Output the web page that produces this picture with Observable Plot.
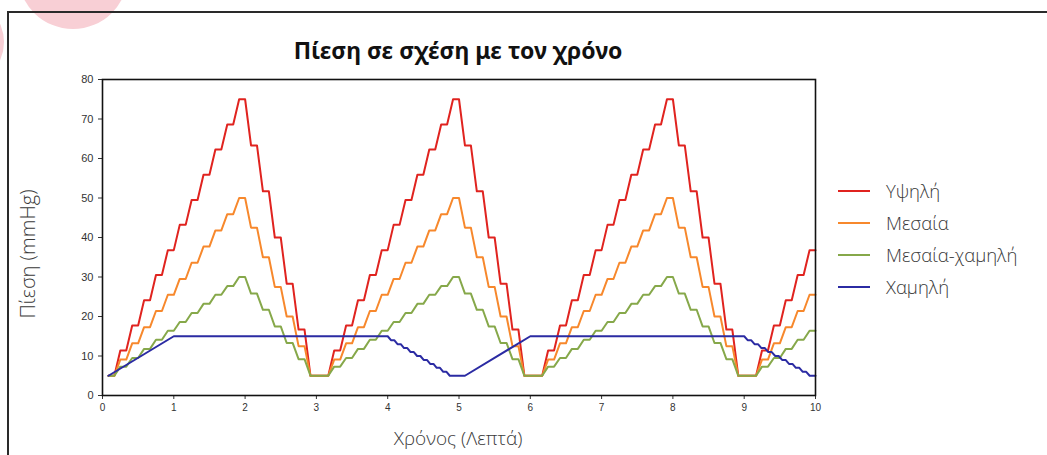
<!DOCTYPE html>
<html>
<head>
<meta charset="utf-8">
<script src="https://cdn.jsdelivr.net/npm/d3@7"></script>
<script src="https://cdn.jsdelivr.net/npm/@observablehq/plot@0.6"></script>
<style>
  html, body { margin: 0; padding: 0; background: #fff; }
  #root { position: relative; width: 1047px; height: 455px; overflow: hidden; background: #fff; }
  .blob { position: absolute; border-radius: 50%; background: #f8cfd5; }
  #frame { position: absolute; left: 7px; top: 11px; width: 1100px; height: 500px;
           border-top: 2px solid #2a2a2a; border-left: 2px solid #2a2a2a; }
  #title { position: absolute; top: 34px; left: 458px; transform: translateX(-50%);
           font-family: "Noto Sans", "Open Sans", sans-serif; font-weight: 700; font-size: 23px;
           color: #111; white-space: nowrap; line-height: 32px; }
  .axlabel { position: absolute; font-family: "Open Sans", "Lato", sans-serif; font-weight: 300;
             color: #3a3a3a; white-space: nowrap; line-height: 26px; }
  #xlabel { top: 425px; left: 458px; transform: translateX(-50%); font-size: 19px; }
  #ylabel { top: 254px; left: 28px; transform: translate(-50%, -50%) rotate(-90deg); font-size: 20px; }
  #legend { position: absolute; left: 838px; top: 0; }
  .li { position: absolute; left: 0; white-space: nowrap; font-family: "Open Sans", "Lato", sans-serif;
        font-weight: 300; font-size: 18.5px; color: #3a3a3a; line-height: 24px; }
  .li span.sw { position: absolute; left: 0; top: 11px; width: 32px; height: 2px; }
  .li span.tx { position: absolute; left: 48px; top: 0; }
  svg { position: absolute; left: 0; top: 0; }
</style>
</head>
<body>
<div id="root">
  <div class="blob" style="left:18px; top:-81px; width:110px; height:110px;"></div>
  <div class="blob" style="left:-84px; top:-2px; width:88px; height:88px;"></div>
  <div id="frame"></div>
  <div id="title">Πίεση σε σχέση με τον χρόνο</div>
  <div id="xlabel" class="axlabel">Χρόνος (Λεπτά)</div>
  <div id="ylabel" class="axlabel">Πίεση (mmHg)</div>
  <div id="legend"></div>
</div>
<script>
// ---- Data ----
const seriesNames = ["Υψηλή", "Μεσαία", "Μεσαία-χαμηλή", "Χαμηλή"];
const seriesColors = ["#e0231f", "#f7882c", "#86a84a", "#2b2ba3"];

const xTicks = [0, 1, 2, 3, 4, 5, 6, 7, 8, 9, 10];
const yTicks = [0, 10, 20, 30, 40, 50, 60, 70, 80];

// end (in seconds) of each 10-second step; each level is held for the last 5 s of its step
const stepSeconds = [10,20,30,40,50,60,70,80,90,100,110,120,130,140,150,160,170,180,
  190,200,210,220,230,240,250,260,270,280,290,300,310,320,330,340,350,360,
  370,380,390,400,410,420,430,440,450,460,470,480,490,500,510,520,530,540,
  550,560,570,580,590,600];

const highLevels = [5,11.4,17.7,24.1,30.5,36.8,43.2,49.5,55.9,62.3,68.6,75,63.3,51.7,40,28.3,16.7,5,
  5,11.4,17.7,24.1,30.5,36.8,43.2,49.5,55.9,62.3,68.6,75,63.3,51.7,40,28.3,16.7,5,
  5,11.4,17.7,24.1,30.5,36.8,43.2,49.5,55.9,62.3,68.6,75,63.3,51.7,40,28.3,16.7,5,
  5,11.4,17.7,24.1,30.5,36.8];

const mediumLevels = [5,9.1,13.2,17.3,21.4,25.5,29.5,33.6,37.7,41.8,45.9,50,42.5,35,27.5,20,12.5,5,
  5,9.1,13.2,17.3,21.4,25.5,29.5,33.6,37.7,41.8,45.9,50,42.5,35,27.5,20,12.5,5,
  5,9.1,13.2,17.3,21.4,25.5,29.5,33.6,37.7,41.8,45.9,50,42.5,35,27.5,20,12.5,5,
  5,9.1,13.2,17.3,21.4,25.5];

const mediumLowLevels = [5,7.3,9.5,11.8,14.1,16.4,18.6,20.9,23.2,25.5,27.7,30,25.8,21.7,17.5,13.3,9.2,5,
  5,7.3,9.5,11.8,14.1,16.4,18.6,20.9,23.2,25.5,27.7,30,25.8,21.7,17.5,13.3,9.2,5,
  5,7.3,9.5,11.8,14.1,16.4,18.6,20.9,23.2,25.5,27.7,30,25.8,21.7,17.5,13.3,9.2,5,
  5,7.3,9.5,11.8,14.1,16.4];

// low series: explicit points (seconds, mmHg)
const lowSeconds = [5,60,240,
  242.75,245.5,248.25,251,253.75,256.5,259.25,262,264.75,267.5,270.25,273,275.75,278.5,281.25,284,286.75,289.5,292.25,
  305,360,540,
  542.9,545.8,548.7,551.6,554.5,557.4,560.3,563.2,566.1,569,571.9,574.8,577.7,580.6,583.5,586.4,589.3,592.2,595.1,600];
const lowValues = [5,15,15,
  14,14,13,13,12,12,11,11,10,10,9,9,8,8,7,7,6,6,5,
  5,15,15,
  14,14,13,13,12,12,11,11,10,10,9,9,8,8,7,7,6,6,5,5];

// ---- Build tables ----
function stairs(name, levels) {
  const out = [];
  levels.forEach((v, k) => {
    out.push({series: name, t: (stepSeconds[k] - 5) / 60, v});
    out.push({series: name, t: stepSeconds[k] / 60, v});
  });
  return out;
}
const high = stairs(seriesNames[0], highLevels);
const medium = stairs(seriesNames[1], mediumLevels);
const mediumLow = stairs(seriesNames[2], mediumLowLevels);
const low = lowSeconds.map((s, i) => ({series: seriesNames[3], t: s / 60, v: lowValues[i]}));

const lw = 2;
const chart = Plot.plot({
  width: 1047,
  height: 455,
  marginLeft: 102,
  marginRight: 232,
  marginTop: 79,
  marginBottom: 60,
  style: {background: "transparent", fontFamily: "'Liberation Sans', Arial, sans-serif", fontSize: "10px", color: "#333"},
  x: {domain: [0, 10], label: null},
  y: {domain: [0, 80], label: null},
  marks: [
    Plot.axisX({ticks: xTicks, tickSize: 4, tickPadding: 4, label: null, tickFormat: d => String(d)}),
    Plot.axisY({ticks: yTicks, tickSize: 4, tickPadding: 5, label: null, tickFormat: d => String(d), fontSize: 11}),
    Plot.line(high, {x: "t", y: "v", stroke: seriesColors[0], strokeWidth: lw}),
    Plot.line(medium, {x: "t", y: "v", stroke: seriesColors[1], strokeWidth: lw}),
    Plot.line(mediumLow, {x: "t", y: "v", stroke: seriesColors[2], strokeWidth: lw}),
    Plot.line(low, {x: "t", y: "v", stroke: seriesColors[3], strokeWidth: lw}),
    Plot.frame({stroke: "#111", strokeWidth: 1.6})
  ]
});
const root = document.getElementById("root");
root.insertBefore(chart, root.firstChild);

// ---- Legend ----
const legend = document.getElementById("legend");
const rowTops = [179, 211, 243, 275];
seriesNames.forEach((name, i) => {
  const d = document.createElement("div");
  d.className = "li";
  d.style.top = rowTops[i] + "px";
  d.innerHTML = `<span class="sw" style="background:${seriesColors[i]}"></span><span class="tx">${name}</span>`;
  legend.appendChild(d);
});
</script>
</body>
</html>
